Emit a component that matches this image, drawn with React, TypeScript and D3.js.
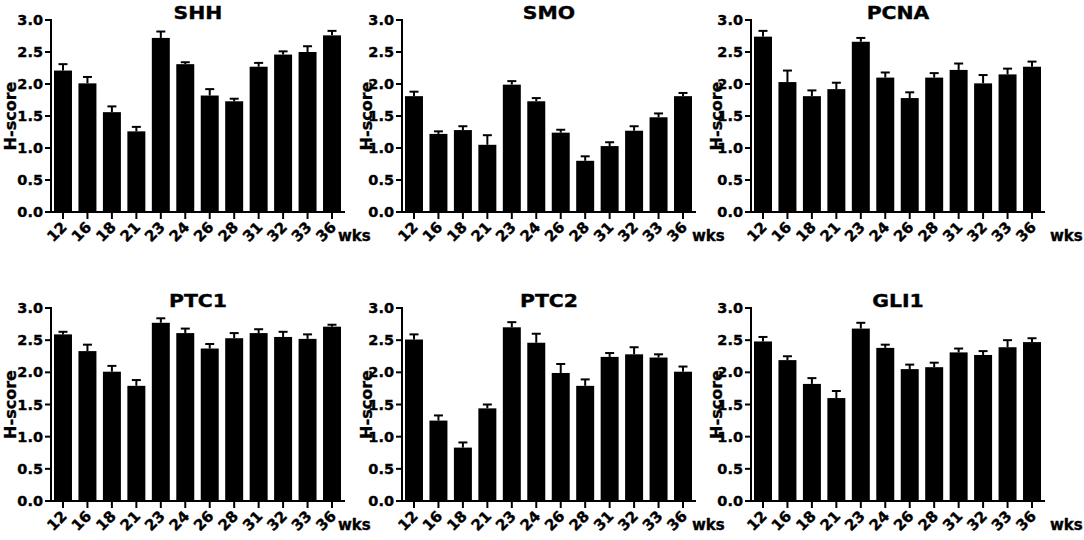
import * as d3 from 'd3';

const weeks = ['12', '16', '18', '21', '23', '24', '26', '28', '31', '32', '33', '36'];
const yTicks = [0, 0.5, 1, 1.5, 2, 2.5, 3];

const shhMean = [2.21, 2.01, 1.56, 1.26, 2.72, 2.31, 1.82, 1.73, 2.27, 2.46, 2.5, 2.76];
const shhErr = [0.1, 0.1, 0.09, 0.07, 0.1, 0.03, 0.1, 0.04, 0.06, 0.05, 0.09, 0.07];
const smoMean = [1.81, 1.22, 1.28, 1.05, 1.99, 1.73, 1.24, 0.8, 1.03, 1.27, 1.48, 1.81];
const smoErr = [0.07, 0.04, 0.06, 0.15, 0.055, 0.05, 0.045, 0.07, 0.06, 0.07, 0.06, 0.05];
const pcnaMean = [2.74, 2.03, 1.81, 1.92, 2.66, 2.1, 1.78, 2.1, 2.22, 2.01, 2.15, 2.27];
const pcnaErr = [0.09, 0.18, 0.09, 0.1, 0.06, 0.08, 0.09, 0.07, 0.1, 0.13, 0.09, 0.08];
const ptc1Mean = [2.59, 2.33, 2.01, 1.79, 2.77, 2.61, 2.37, 2.53, 2.61, 2.55, 2.52, 2.71];
const ptc1Err = [0.04, 0.1, 0.09, 0.09, 0.07, 0.07, 0.07, 0.08, 0.06, 0.08, 0.07, 0.03];
const ptc2Mean = [2.51, 1.25, 0.83, 1.44, 2.7, 2.46, 1.99, 1.79, 2.24, 2.28, 2.23, 2.01];
const ptc2Err = [0.08, 0.08, 0.08, 0.06, 0.08, 0.14, 0.14, 0.1, 0.06, 0.11, 0.05, 0.08];
const gli1Mean = [2.48, 2.19, 1.82, 1.6, 2.68, 2.38, 2.05, 2.08, 2.31, 2.27, 2.39, 2.47];
const gli1Err = [0.07, 0.06, 0.09, 0.11, 0.09, 0.05, 0.07, 0.07, 0.06, 0.06, 0.11, 0.06];

const panels = [
  { title: 'SHH', mean: shhMean, err: shhErr },
  { title: 'SMO', mean: smoMean, err: smoErr },
  { title: 'PCNA', mean: pcnaMean, err: pcnaErr },
  { title: 'PTC1', mean: ptc1Mean, err: ptc1Err },
  { title: 'PTC2', mean: ptc2Mean, err: ptc2Err },
  { title: 'GLI1', mean: gli1Mean, err: gli1Err },
];

// layout, per column / row
const axisXs = [51, 402, 751];
const labelXs = [10, 366, 716];
const wksXs = [338, 692, 1050];
const rowTops = [20, 308];
const rowBottoms = [212, 501];
const axisLen = 294;

const font = "'DejaVu Sans', sans-serif";
// heavier type, the original looks blacker than plain bold
const ink = { fill: '#000', stroke: '#000', strokeWidth: 0.35 };

function Panel({
  title,
  mean,
  err,
  col,
  row,
}: {
  title: string;
  mean: number[];
  err: number[];
  col: number;
  row: number;
}) {
  const x0 = axisXs[col];
  const top = rowTops[row];
  const bottom = rowBottoms[row];

  const y = d3.scaleLinear().domain([0, 3]).range([bottom, top]);
  const x = d3
    .scaleBand()
    .domain(weeks)
    .range([x0 + 3, x0 + 290])
    .paddingInner(0.265)
    .paddingOuter(0);
  const bw = x.bandwidth();

  return (
    <g>
      <text
        transform={`translate(${x0 + axisLen / 2},${top - 1}) scale(1.2,1)`}
        textAnchor="middle"
        fontFamily={font}
        fontWeight="bold"
        fontSize={17}
        {...ink}
      >
        {title}
      </text>

      {weeks.map((w, i) => {
        const bx = x(w) ?? 0;
        const cx = bx + bw / 2;
        return (
          <g key={w}>
            <rect x={bx} y={y(mean[i])} width={bw} height={y(0) - y(mean[i])} fill="#000" />
            <line x1={cx} x2={cx} y1={y(mean[i])} y2={y(mean[i] + err[i])} stroke="#000" strokeWidth={2} />
            <line x1={cx - 4.5} x2={cx + 4.5} y1={y(mean[i] + err[i])} y2={y(mean[i] + err[i])} stroke="#000" strokeWidth={2} />
            <line x1={cx} x2={cx} y1={bottom} y2={bottom + 7} stroke="#000" strokeWidth={2} />
            <text
              transform={`translate(${cx + 5},${bottom + 16}) rotate(-45)`}
              textAnchor="end"
              fontFamily={font}
              fontWeight="bold"
              fontSize={15}
              {...ink}
            >
              {w}
            </text>
          </g>
        );
      })}

      {yTicks.map((t) => (
        <g key={t}>
          <line x1={x0 - 6} x2={x0} y1={y(t)} y2={y(t)} stroke="#000" strokeWidth={2} />
          <text
            x={x0 - 8}
            y={y(t)}
            textAnchor="end"
            dominantBaseline="central"
            fontFamily={font}
            fontWeight="bold"
            fontSize={14.5}
            {...ink}
          >
            {t.toFixed(1)}
          </text>
        </g>
      ))}

      <line x1={x0} x2={x0} y1={top - 1} y2={bottom + 1} stroke="#000" strokeWidth={2} />
      <line x1={x0} x2={x0 + axisLen} y1={bottom} y2={bottom} stroke="#000" strokeWidth={2} />

      <text
        transform={`translate(${labelXs[col]},${(top + bottom) / 2}) rotate(-90)`}
        textAnchor="middle"
        dominantBaseline="central"
        fontFamily={font}
        fontWeight="bold"
        fontSize={16}
        {...ink}
      >
        H-score
      </text>

      <text x={wksXs[col]} y={bottom + 29} fontFamily={font} fontWeight="bold" fontSize={15} {...ink}>
        wks
      </text>
    </g>
  );
}

export default function App() {
  return (
    <svg
      width={1084}
      height={540}
      viewBox="0 0 1084 540"
      style={{ position: 'absolute', left: 0, top: 0, background: '#fff' }}
    >
      <rect width={1084} height={540} fill="#fff" />
      {panels.map((p, i) => (
        <Panel key={p.title} title={p.title} mean={p.mean} err={p.err} col={i % 3} row={Math.floor(i / 3)} />
      ))}
    </svg>
  );
}
